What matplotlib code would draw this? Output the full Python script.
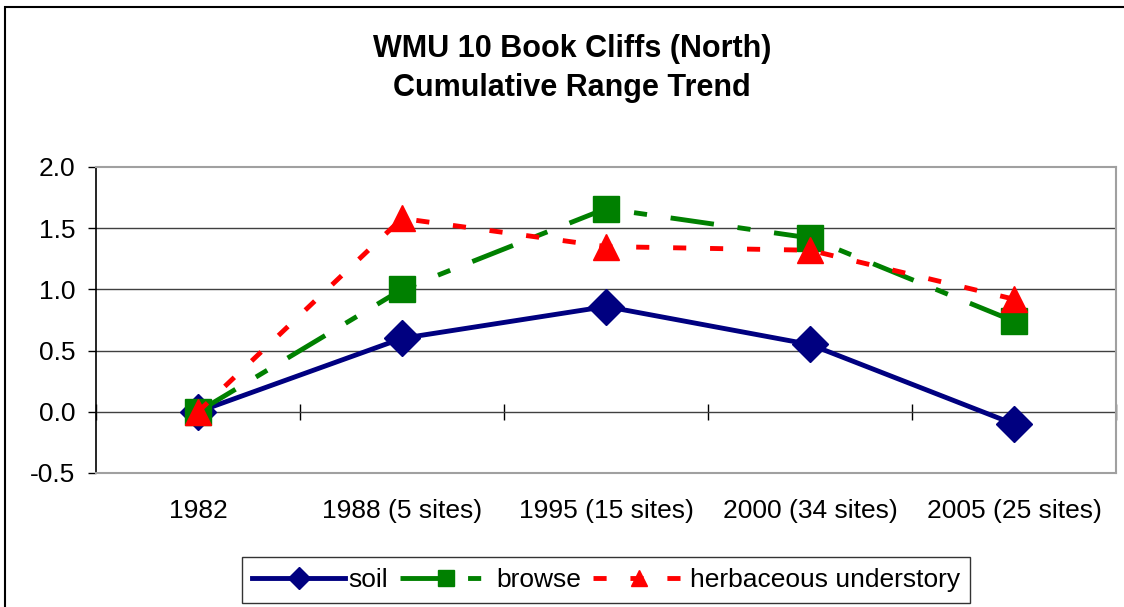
import matplotlib
matplotlib.use("Agg")
import matplotlib.pyplot as plt
from matplotlib.patches import Rectangle

plt.rcParams['font.family'] = ['Liberation Sans', 'DejaVu Sans']

categories = ["1982", "1988 (5 sites)", "1995 (15 sites)", "2000 (34 sites)", "2005 (25 sites)"]
soil = [0.0, 0.60, 0.86, 0.55, -0.10]
browse = [0.0, 1.00, 1.66, 1.42, 0.74]
herbaceous = [0.0, 1.58, 1.35, 1.32, 0.92]
yticks = [-0.5, 0.0, 0.5, 1.0, 1.5, 2.0]

W, H = 1124, 607
fig = plt.figure(figsize=(W / 100, H / 100), dpi=100)
ax = fig.add_axes([96 / W, 1 - 473 / H, (1116 - 96) / W, (473 - 167) / H])

x = list(range(len(categories)))
LW = 3.5
ax.plot(x, soil, color='#000080', lw=LW, marker='D', ms=18, label='soil', zorder=3)
ax.plot(x, browse, color='#008000', lw=LW, marker='s', ms=19, label='browse',
        dashes=(9, 4.9, 2.7, 4.9), zorder=4)
ax.plot(x, herbaceous, color='#FF0000', lw=LW, marker='^', ms=19, label='herbaceous understory',
        dashes=(2.7, 4.9), zorder=5)

ax.set_xlim(-0.5, len(categories) - 0.5)
ax.set_ylim(-0.5, 2.0)
ax.set_yticks(yticks)
ax.set_yticklabels([f"{v:.1f}" for v in yticks], fontsize=19)
ax.set_xticks(x)
ax.set_xticklabels(categories, fontsize=19)
ax.tick_params(axis='x', length=0, pad=19)
ax.tick_params(axis='y', length=6, width=1, color='black', pad=9, direction='out')

for v in [0.0, 0.5, 1.0, 1.5]:
    ax.axhline(v, color='#404040', lw=1, zorder=1)

ax.spines['left'].set_color('black')
ax.spines['left'].set_linewidth(1.2)
for s in ['top', 'right', 'bottom']:
    ax.spines[s].set_color('#a0a0a0')
    ax.spines[s].set_linewidth(1.5)

# category-boundary ticks on the zero line
zero_loc = (0 - (-0.5)) / 2.5
sec = ax.secondary_xaxis(zero_loc)
sec.set_xticks([i + 0.5 for i in range(-1, len(categories))])
sec.tick_params(direction='inout', length=11, width=1, color='black', labelbottom=False, labeltop=False)
sec.set_xticklabels([])
sec.spines['bottom'].set_visible(False)
sec.spines['top'].set_visible(False)

fig.text(572 / W, 1 - 49 / H, "WMU 10 Book Cliffs (North)", ha='center', va='center',
         fontsize=22, fontweight='bold')
fig.text(572 / W, 1 - 88 / H, "Cumulative Range Trend", ha='center', va='center',
         fontsize=22, fontweight='bold')

leg = fig.legend(loc='center', bbox_to_anchor=(606 / W, 1 - 580 / H), ncol=3, fontsize=19,
                 frameon=True, fancybox=False, edgecolor='black', handlelength=3.5,
                 handletextpad=0.15, columnspacing=0.45, borderpad=0.4, borderaxespad=0,
                 markerscale=0.6)
leg.get_frame().set_linewidth(1)

fig.patches.append(Rectangle((5 / W, -0.1), 1.2, 1 - 7 / H + 0.1, transform=fig.transFigure,
                             fill=False, edgecolor='black', lw=1.5))

fig.savefig("out.png", dpi=100)
